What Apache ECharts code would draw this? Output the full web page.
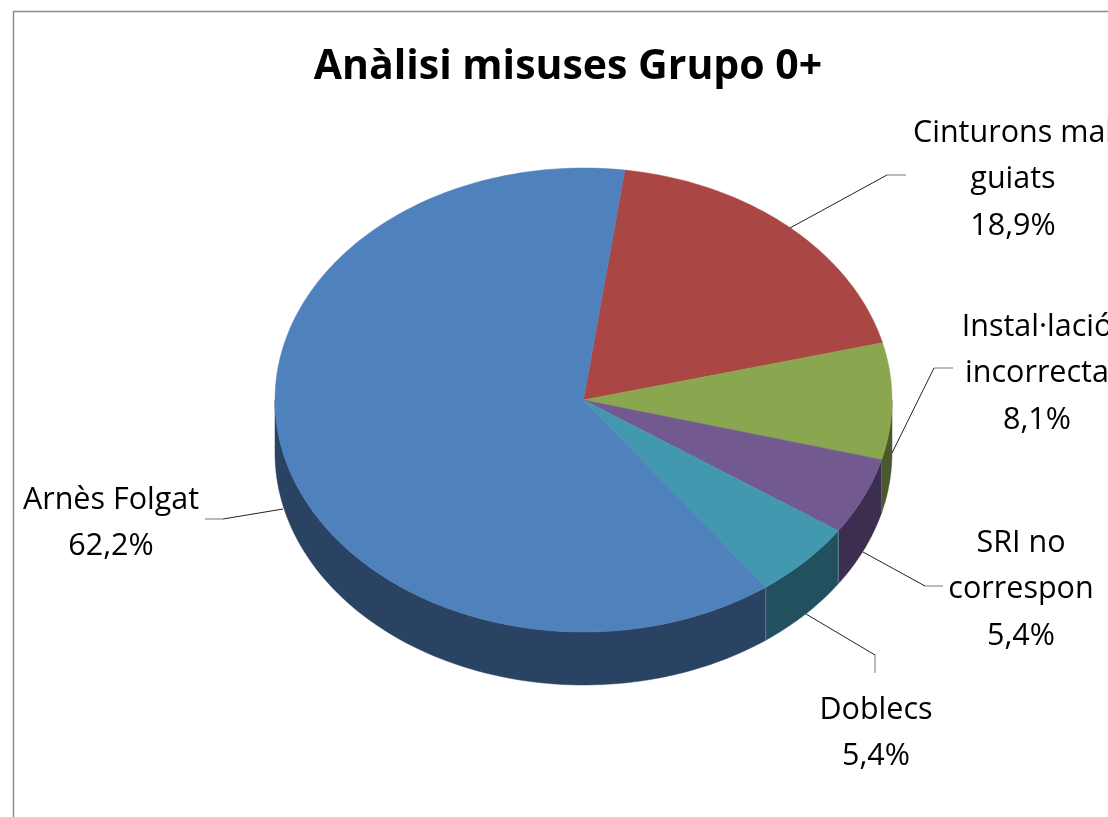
<!DOCTYPE html>
<html>
<head>
<meta charset="utf-8">
<title>Anàlisi misuses Grupo 0+</title>
<script src="https://cdn.jsdelivr.net/npm/echarts@6/dist/echarts.min.js"></script>
<style>
  html, body { margin: 0; padding: 0; background: #fff; overflow: hidden; }
  #chart { width: 1108px; height: 817px; }
</style>
</head>
<body>
<div id="chart"></div>
<script>
var categories = ['Cinturons mal\nguiats', 'Instal·lació\nincorrecta', 'SRI no\ncorrespon', 'Doblecs', 'Arnès Folgat'];
var shares = [18.9, 8.1, 5.4, 5.4, 62.2];

var topColors = ['#AA4744', '#8AA64F', '#725990', '#4298AF', '#4F81BD'];
var rimColors = ['#5C2725', '#4B5A2B', '#3C2E4E', '#22505F', '#2A4362'];
var rimEdges = ['#8a5a58', '#7d8a5e', '#6b5f80', '#5f8a96', '#5f7d9e'];

// label centre + first line y, then leader line points (pixels)
var labelX = [1013, 1037, 1021, 876, 111];
var labelY = [133, 327, 543, 710, 500];
var leaders = [
  [[790, 228], [887, 175], [906, 175]],
  [[892, 453], [934, 368], [953, 368]],
  [[863, 552], [925, 586], [943, 586]],
  [[806, 614], [875, 655], [875, 673]],
  [[283, 509], [223, 519], [205, 519]]
];

var START_DEG = 7.7;
var DEPTH = 53 / 232;
var FONT = '"Open Sans", sans-serif';
var LABEL_SIZE = 30.5;
var LINE_HEIGHT = 46.5;

var chart = echarts.init(document.getElementById('chart'));

function sliceAngles(index) {
  var before = 0;
  for (var i = 0; i < index; i++) before += shares[i];
  var from = START_DEG + before * 3.6;
  return [from, from + shares[index] * 3.6];
}

function onEllipse(api, deg, drop) {
  var rad = deg * Math.PI / 180;
  return api.coord([Math.sin(rad), Math.cos(rad) - (drop || 0)]);
}

function arcPoints(api, from, to, drop) {
  var pts = [];
  var steps = Math.max(2, Math.ceil((to - from) / 1.5));
  for (var i = 0; i <= steps; i++) {
    pts.push(onEllipse(api, from + (to - from) * i / steps, drop));
  }
  return pts;
}

function renderRim(params, api) {
  var index = api.value(0);
  var range = sliceAngles(index);
  var from = Math.max(range[0], 90);
  var to = Math.min(range[1], 270);
  if (to <= from) return { type: 'group', children: [] };
  var points = arcPoints(api, from, to, 0).concat(arcPoints(api, from, to, DEPTH).reverse());
  var children = [{
    type: 'polygon',
    shape: { points: points },
    style: { fill: rimColors[index], stroke: rimColors[index], lineWidth: 0.5 }
  }];
  if (range[0] >= 90) {
    var a = onEllipse(api, range[0], 0);
    var b = onEllipse(api, range[0], DEPTH);
    children.push({
      type: 'line',
      shape: { x1: a[0], y1: a[1], x2: b[0], y2: b[1] },
      style: { stroke: rimEdges[index], lineWidth: 1 },
      z2: 5
    });
  }
  return { type: 'group', children: children };
}

function renderTop(params, api) {
  var index = api.value(0);
  var range = sliceAngles(index);
  var points = [api.coord([0, 0])].concat(arcPoints(api, range[0], range[1], 0));
  return {
    type: 'polygon',
    shape: { points: points },
    style: { fill: topColors[index], stroke: topColors[index], lineWidth: 0.5 }
  };
}

function renderLabel(params, api) {
  var index = api.value(0);
  var pct = shares[index].toFixed(1).replace('.', ',') + '%';
  var line = leaders[index];
  return {
    type: 'group',
    children: [
      {
        type: 'polyline',
        shape: { points: line.slice(0, 2) },
        style: { stroke: '#222', lineWidth: 1, fill: null }
      },
      {
        type: 'polyline',
        shape: { points: line.slice(1) },
        style: { stroke: '#777', lineWidth: 1, fill: null }
      },
      {
        type: 'text',
        style: {
          text: categories[index] + '\n' + pct,
          x: labelX[index],
          y: labelY[index] - LINE_HEIGHT / 2,
          align: 'center',
          verticalAlign: 'top',
          fontFamily: FONT,
          fontSize: LABEL_SIZE,
          lineHeight: LINE_HEIGHT,
          fill: '#000'
        }
      }
    ]
  };
}

var sliceIndex = shares.map(function (v, i) { return [i]; });

chart.setOption({
  animation: false,
  backgroundColor: '#fff',
  title: {
    text: 'Anàlisi misuses Grupo 0+',
    left: 563,
    top: 42,
    textAlign: 'center',
    textStyle: { fontFamily: FONT, fontWeight: 'bold', fontSize: 41, color: '#000' }
  },
  grid: { left: 275, width: 617, top: 168, height: 464 },
  xAxis: { type: 'value', min: -1, max: 1, show: false },
  yAxis: { type: 'value', min: -1, max: 1, show: false },
  graphic: [
    {
      type: 'polyline',
      silent: true,
      shape: { points: [[13.5, 817], [13.5, 11.5], [1108, 11.5]] },
      style: { stroke: '#8c8c8c', lineWidth: 1.5, fill: null }
    }
  ],
  series: [
    { type: 'custom', coordinateSystem: 'cartesian2d', clip: false, z: 1, silent: true, data: sliceIndex, renderItem: renderRim },
    { type: 'custom', coordinateSystem: 'cartesian2d', clip: false, z: 2, silent: true, data: sliceIndex, renderItem: renderTop },
    { type: 'custom', coordinateSystem: 'cartesian2d', clip: false, z: 3, silent: true, data: sliceIndex, renderItem: renderLabel }
  ]
});
</script>
</body>
</html>
